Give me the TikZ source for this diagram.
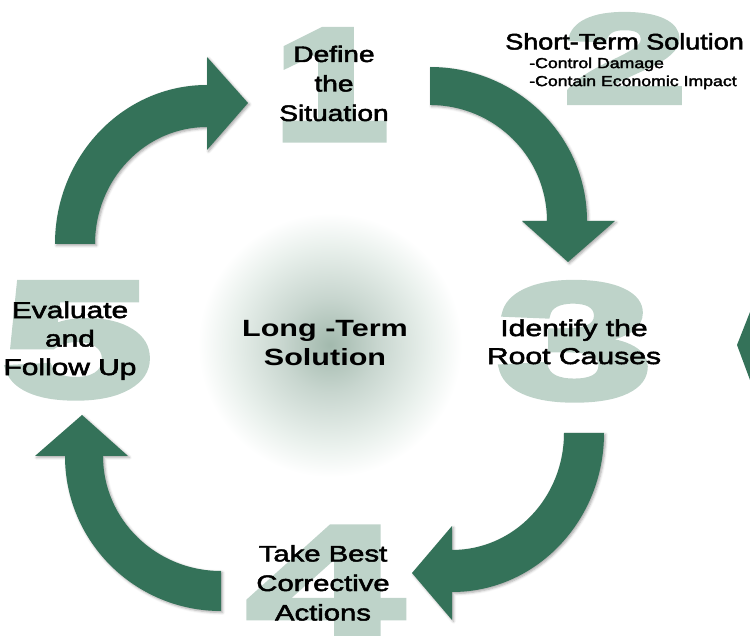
\documentclass[tikz,border=0pt]{standalone}
\usepackage{fontspec}
\setmainfont{Liberation Sans}
\newfontfamily\medf[FakeBold=2]{Liberation Sans}
\newfontfamily\sansf{Liberation Sans}
\newfontfamily\digf[FakeBold=3.5]{Liberation Sans Bold}
\usetikzlibrary{shadows.blur}
\definecolor{arrowgreen}{RGB}{52,114,89}
\definecolor{numgray}{RGB}{190,211,201}
\definecolor{glowc}{RGB}{162,185,173}
\definecolor{glowm}{RGB}{200,214,207}
\definecolor{glowo}{RGB}{234,241,237}
\pgfdeclareradialshading{glow}{\pgfpoint{0bp}{0bp}}{color(0bp)=(glowc); color(9bp)=(glowm); color(19bp)=(glowo); color(25bp)=(white); color(50bp)=(white)}
\begin{document}
\begin{tikzpicture}[x=1pt,y=1pt,
  arrowshape/.style={fill=arrowgreen, draw=none,
    blur shadow={shadow xshift=1.5pt, shadow yshift=-1.5pt, shadow blur radius=2.5pt, shadow opacity=35}},
  bignum/.style={text=numgray, inner sep=0pt, transform shape},
  steplabel/.style={inner sep=0pt, align=center, anchor=north, transform shape},
]
\useasboundingbox (0,0) rectangle (750,635);
% centre glow
\node[circle, minimum size=264pt, inner sep=0pt, shade, shading=glow] (glowdisc) at (330,290) {};
% big numbers
\node[bignum, anchor=south, xscale=1.3, font=\digf\fontsize{160}{160}\selectfont] (n1) at (331,495) {1};
\node[bignum, anchor=south, xscale=1.75, font=\digf\fontsize{127}{127}\selectfont] (n2) at (625,532) {2};
\node[bignum, anchor=south, xscale=1.7, font=\digf\fontsize{165}{165}\selectfont] (n3) at (575,235) {3};
\node[bignum, anchor=north, xscale=1.7, font=\digf\fontsize{165}{165}\selectfont] (n4) at (325,108) {4};
\node[bignum, anchor=south, xscale=1.65, font=\digf\fontsize{165}{165}\selectfont] (n5) at (77,237) {5};
% arrows
\fill[arrowshape] (55,391) arc[start angle=180,end angle=90,x radius=152pt,y radius=159pt]
  -- (207,578) -- (248,532) -- (207,485) -- (207,508)
  arc[start angle=90,end angle=180,x radius=112pt,y radius=117pt] -- cycle;
\fill[arrowshape] (430,568) arc[start angle=90,end angle=0,x radius=157pt,y radius=154pt]
  -- (615,414) -- (568,373) -- (522,414) -- (547,414)
  arc[start angle=0,end angle=90,x radius=117pt,y radius=116pt] -- cycle;
\fill[arrowshape] (604,202) arc[start angle=0,end angle=-90,x radius=152pt,y radius=159pt]
  -- (452,15) -- (412,62) -- (452,109) -- (452,85)
  arc[start angle=-90,end angle=0,x radius=112pt,y radius=117pt] -- cycle;
\fill[arrowshape] (221,24) arc[start angle=-90,end angle=-180,x radius=156pt,y radius=155pt]
  -- (35,179) -- (82,220) -- (128,179) -- (103,179)
  arc[start angle=180,end angle=270,x radius=118pt,y radius=115pt] -- cycle;
% partial arrow at right edge
\fill[arrowgreen] (737,290) -- (750,323) -- (750,255) -- cycle;
% labels
\node[steplabel, xscale=1.25, font=\medf\fontsize{22.5}{29.5}\selectfont] (define) at (334,589.5) {Define\\the\\Situation};
\node[steplabel, xscale=1.3, font=\medf\fontsize{23}{28.5}\selectfont] (evaluate) at (70,333.8) {Evaluate\\and\\Follow Up};
\node[steplabel, xscale=1.31, font=\medf\fontsize{23}{28}\selectfont] (identify) at (574,315.8) {Identify the\\Root Causes};
\node[steplabel, xscale=1.3, font=\sansf\bfseries\fontsize{23.5}{29}\selectfont] (longterm) at (325,314.5) {Long -Term\\Solution};
\node[steplabel, xscale=1.3, font=\medf\fontsize{22.5}{29.5}\selectfont] (takebest) at (323,90) {Take Best\\Corrective\\Actions};
\node[inner sep=0pt, anchor=north west, transform shape, xscale=1.2, font=\medf\fontsize{22.5}{26}\selectfont] (shortterm) at (505,602) {Short-Term Solution};
\node[inner sep=0pt, anchor=north west, align=left, transform shape, xscale=1.22, font=\medf\fontsize{14.5}{18}\selectfont] (bullets) at (529,577.6) {-Control Damage\\-Contain Economic Impact};
\end{tikzpicture}
\end{document}
